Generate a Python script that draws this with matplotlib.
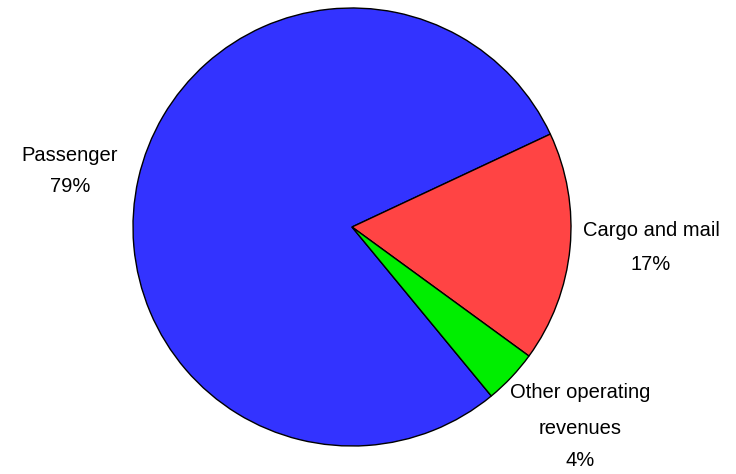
import matplotlib.pyplot as plt

labels = ['Passenger', 'Cargo and mail', 'Other operating revenues']
shares = [79, 17, 4]
colors = ['#3333FF', '#FF4444', '#00EE00']

W, H = 736, 474
fig = plt.figure(figsize=(W / 100, H / 100), dpi=100)
ax = fig.add_axes([0, 0, 1, 1])

ax.pie(shares, colors=colors, startangle=-50.5, counterclock=False,
       center=(352, H - 227), radius=219, frame=True,
       wedgeprops=dict(edgecolor='black', linewidth=1))
ax.set_xlim(0, W)
ax.set_ylim(0, H)
ax.axis('off')

font = dict(family='Liberation Sans', fontsize=14.5, ha='center', va='center')
ax.text(70, H - 155, labels[0], **font)
ax.text(70, H - 186, f'{shares[0]}%', **font)
ax.text(651, H - 230, labels[1], **font)
ax.text(651, H - 265, f'{shares[1]}%', **font)
ax.text(580, H - 393, 'Other operating', **font)
ax.text(580, H - 428, 'revenues', **font)
ax.text(580, H - 460, f'{shares[2]}%', **font)

fig.savefig('out.png', dpi=100)
